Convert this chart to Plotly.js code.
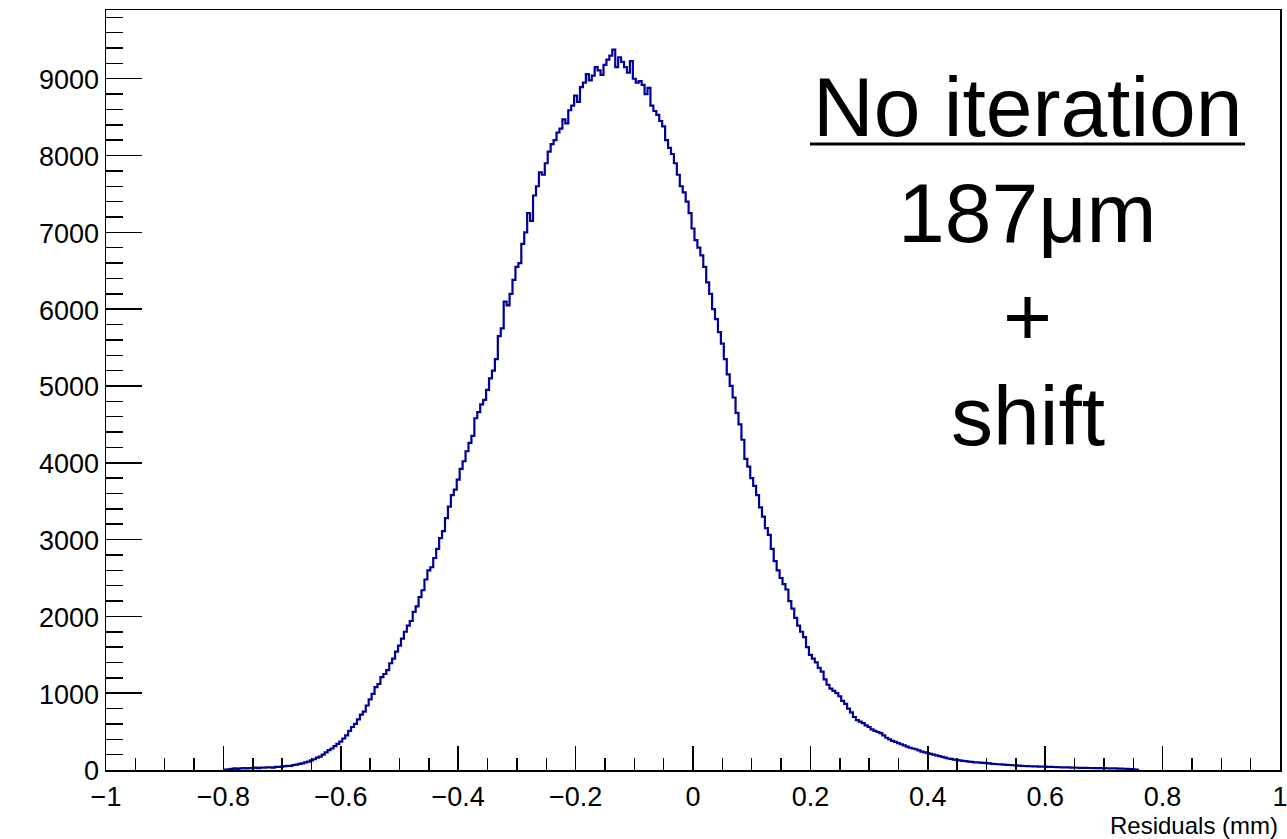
<!DOCTYPE html>
<html>
<head>
<meta charset="utf-8">
<script src="https://cdn.plot.ly/plotly-3.0.1.min.js"></script>
<style>
  html, body { margin: 0; padding: 0; background: #ffffff; }
  #chart { width: 1287px; height: 839px; }
</style>
</head>
<body>
<div id="chart"></div>
<script>
// Histogram of residuals (mm): bin centres start at binStart, spaced binWidth
const binStart = -0.800;
const binWidth = 0.005;
const counts = [
  0, 5, 10, 15, 20, 15, 20, 25, 20, 25,                         // -0.800 ..
  25, 30, 25, 30, 30, 35, 35, 30, 40, 40,                       // -0.750 ..
  45, 50, 55, 55, 65, 70, 80, 85, 100, 110,                     // -0.700 ..
  125, 140, 160, 175, 200, 230, 260, 280, 310, 340,             // -0.650 ..
  370, 410, 450, 510, 560, 600, 660, 720, 760, 840,             // -0.600 ..
  920, 990, 1080, 1120, 1210, 1250, 1300, 1390, 1450, 1540,     // -0.550 ..
  1620, 1710, 1800, 1880, 1940, 2060, 2130, 2250, 2340, 2480,   // -0.500 ..
  2600, 2640, 2760, 2880, 3020, 3110, 3280, 3430, 3580, 3650,   // -0.450 ..
  3780, 3920, 4020, 4150, 4260, 4350, 4580, 4660, 4760, 4820,   // -0.400 ..
  4950, 5100, 5200, 5350, 5650, 5750, 6100, 6050, 6200, 6380,   // -0.350 ..
  6550, 6600, 6850, 7000, 7250, 7150, 7480, 7600, 7780, 7750,   // -0.300 ..
  7900, 8050, 8150, 8200, 8300, 8350, 8470, 8420, 8590, 8650,   // -0.250 ..
  8780, 8700, 8890, 8950, 9060, 8980, 9040, 9150, 9110, 9050,   // -0.200 ..
  9180, 9250, 9300, 9380, 9150, 9280, 9220, 9150, 9080, 9230,   // -0.150 ..
  9000, 8950, 8970, 8920, 8800, 8880, 8650, 8580, 8530, 8450,   // -0.100 ..
  8380, 8200, 8100, 8020, 7900, 7750, 7600, 7520, 7400, 7250,   // -0.050 ..
  7050, 6900, 6800, 6700, 6550, 6350, 6200, 6000, 5870, 5700,   //  0.000 ..
  5550, 5350, 5150, 5000, 4850, 4650, 4500, 4300, 4050, 3950,   //  0.050 ..
  3800, 3700, 3580, 3420, 3300, 3150, 3060, 2880, 2720, 2600,   //  0.100 ..
  2500, 2420, 2350, 2200, 2100, 1980, 1880, 1800, 1730, 1600,   //  0.150 ..
  1500, 1450, 1400, 1330, 1280, 1180, 1110, 1060, 1030, 1000,   //  0.200 ..
  960, 900, 860, 800, 750, 690, 650, 630, 610, 580,             //  0.250 ..
  560, 530, 510, 495, 480, 450, 420, 400, 380, 365,             //  0.300 ..
  350, 335, 320, 305, 290, 280, 270, 255, 240, 230,             //  0.350 ..
  220, 210, 200, 190, 180, 170, 160, 150, 145, 135,             //  0.400 ..
  130, 125, 120, 115, 110, 105, 100, 98, 95, 92,                //  0.450 ..
  90, 85, 80, 78, 75, 72, 70, 68, 65, 62,                       //  0.500 ..
  60, 58, 55, 52, 50, 49, 48, 46, 45, 44,                       //  0.550 ..
  43, 41, 40, 39, 38, 36, 35, 34, 33, 31,                       //  0.600 ..
  30, 29, 28, 28, 27, 26, 26, 25, 25, 25,                       //  0.650 ..
  25, 23, 22, 21, 20, 19, 18, 16, 15, 12,                       //  0.700 ..
  10, 5, 0                                                      //  0.750 ..
];
const xTickVals = [-1, -0.8, -0.6, -0.4, -0.2, 0, 0.2, 0.4, 0.6, 0.8, 1];
const xTickText = ['−1', '−0.8', '−0.6', '−0.4', '−0.2', '0', '0.2', '0.4', '0.6', '0.8', '1'];
const yTickVals = [0, 1000, 2000, 3000, 4000, 5000, 6000, 7000, 8000, 9000];
const yTickText = ['0', '1000', '2000', '3000', '4000', '5000', '6000', '7000', '8000', '9000'];
const xTitle = 'Residuals (mm)';
const noteLines = ['No iteration', '187μm', '+', 'shift'];

const centres = counts.map((_, i) => +(binStart + i * binWidth).toFixed(4));

const font = 'Liberation Sans, Arial, Helvetica, sans-serif';

const trace = {
  type: 'scatter',
  mode: 'lines',
  x: centres,
  y: counts,
  line: { shape: 'hvh', color: '#000099', width: 2.2 },
  hoverinfo: 'skip'
};

const layout = {
  width: 1287,
  height: 839,
  margin: { l: 106, r: 7, t: 10, b: 69 },
  paper_bgcolor: '#ffffff',
  plot_bgcolor: '#ffffff',
  showlegend: false,
  font: { family: font, color: '#000000' },
  xaxis: {
    range: [-1, 1],
    tickmode: 'array',
    tickvals: xTickVals,
    ticktext: xTickText,
    ticks: 'inside',
    ticklen: 24,
    tickwidth: 1.5,
    tickcolor: '#000000',
    showgrid: false,
    zeroline: false,
    showline: true,
    linecolor: '#000000',
    linewidth: 1.5,
    mirror: true,
    ticklabeloverflow: 'allow',
    tickfont: { family: font, size: 27, color: '#000000' },
    ticklabelstandoff: 2,
    minor: { dtick: 0.05, tick0: -1, ticks: 'inside', ticklen: 12, tickwidth: 1.5, tickcolor: '#000000', showgrid: false }
  },
  yaxis: {
    range: [0, 9895],
    tickmode: 'array',
    tickvals: yTickVals,
    ticktext: yTickText,
    ticks: 'inside',
    ticklen: 36,
    tickwidth: 1.5,
    tickcolor: '#000000',
    showgrid: false,
    zeroline: false,
    showline: true,
    linecolor: '#000000',
    linewidth: 1.5,
    mirror: true,
    ticklabelshift: 1,
    tickfont: { family: font, size: 27, color: '#000000' },
    minor: { dtick: 200, tick0: 0, ticks: 'inside', ticklen: 17, tickwidth: 1.5, tickcolor: '#000000', showgrid: false }
  },
  annotations: [
    { xref: 'paper', yref: 'paper', x: 1.0, y: -0.053, xanchor: 'right', yanchor: 'top',
      text: xTitle, showarrow: false, font: { family: font, size: 24, color: '#000000' } },
    { xref: 'paper', yref: 'paper', x: 0.785, y: 0.872, xanchor: 'center', yanchor: 'middle',
      text: noteLines[0], showarrow: false, font: { family: font, size: 84, color: '#000000' } },
    { xref: 'paper', yref: 'paper', x: 0.785, y: 0.733, xanchor: 'center', yanchor: 'middle',
      text: noteLines[1], showarrow: false, font: { family: font, size: 84, color: '#000000' } },
    { xref: 'paper', yref: 'paper', x: 0.785, y: 0.598, xanchor: 'center', yanchor: 'middle',
      text: noteLines[2], showarrow: false, font: { family: font, size: 84, color: '#000000' } },
    { xref: 'paper', yref: 'paper', x: 0.785, y: 0.466, xanchor: 'center', yanchor: 'middle',
      text: noteLines[3], showarrow: false, font: { family: font, size: 84, color: '#000000' } }
  ],
  shapes: [
    { type: 'line', xref: 'paper', yref: 'paper', x0: (810 - 106) / 1174, x1: (1245 - 106) / 1174,
      y0: (770 - 144) / 760, y1: (770 - 144) / 760, line: { color: '#000000', width: 3 } }
  ]
};

Plotly.newPlot('chart', [trace], layout, { displayModeBar: false, staticPlot: true });
</script>
</body>
</html>
